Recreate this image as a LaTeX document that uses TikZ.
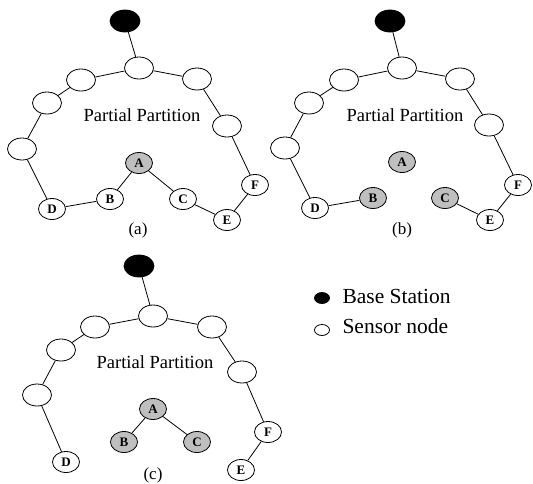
\documentclass[tikz,border=0pt]{standalone}
\usepackage{fontspec}
\setmainfont{Liberation Serif}
\usetikzlibrary{shapes.geometric}
\tikzset{
  sn/.style={ellipse,draw,line width=0.8pt,fill=white,minimum width=29pt,minimum height=22pt,inner sep=0pt},
  ln/.style={ellipse,draw,line width=0.8pt,fill=white,minimum width=27pt,minimum height=21pt,inner sep=0pt,font=\fontsize{13}{13}\selectfont\bfseries},
  gn/.style={ln,fill=black!25},
  bs/.style={ellipse,draw,line width=0.8pt,fill=black,minimum width=30pt,minimum height=22pt,inner sep=0pt},
  lk/.style={line width=0.8pt},
  pp/.style={font=\fontsize{18.5}{18.5}\selectfont},
  subcap/.style={font=\fontsize{17}{17}\selectfont},
  lg/.style={font=\fontsize{21.5}{21.5}\selectfont,anchor=west}
}
\begin{document}
\begin{tikzpicture}[x=1pt,y=-1pt]
\useasboundingbox (0,0) rectangle (533,483);
% ---------- (a)
\node[bs] (aBS) at (125,21) {};
\node[sn] (aT) at (139,68) {};
\node[sn] (aUL) at (81,80) {};
\node[sn] (aUR) at (197,79) {};
\node[sn] (aL2) at (47,103) {};
\node[sn] (aR2) at (227,126) {};
\node[sn] (aL3) at (22,149) {};
\node[gn] (aA) at (139,163) {A};
\node[ln] (aB) at (110,199) {B};
\node[ln] (aC) at (183,199) {C};
\node[ln] (aD) at (52,209) {D};
\node[ln] (aE) at (227,220) {E};
\node[ln] (aF) at (255,185) {F};
\node[pp] (aP) at (142,115) {Partial Partition};
\node[subcap] (acap) at (138,230) {(a)};
\draw[lk] (aBS)--(aT) (aT)--(aUL) (aT)--(aUR) (aUL)--(aL2) (aL2)--(aL3) (aL3)--(aD)
  (aD)--(aB) (aB)--(aA) (aA)--(aC) (aC)--(aE) (aE)--(aF) (aF)--(aR2) (aR2)--(aUR);
% ---------- (b)
\node[bs] (bBS) at (390,21) {};
\node[sn] (bT) at (402,68) {};
\node[sn] (bUL) at (344,80) {};
\node[sn] (bUR) at (460,79) {};
\node[sn] (bL2) at (309,103) {};
\node[sn] (bR2) at (489,125) {};
\node[sn] (bL3) at (285,148) {};
\node[gn] (bA) at (402,162) {A};
\node[gn] (bB) at (373,198) {B};
\node[gn] (bC) at (445,198) {C};
\node[ln] (bD) at (315,208) {D};
\node[ln] (bE) at (490,220) {E};
\node[ln] (bF) at (518,185) {F};
\node[pp] (bP) at (405,115) {Partial Partition};
\node[subcap] (bcap) at (402,230) {(b)};
\draw[lk] (bBS)--(bT) (bT)--(bUL) (bT)--(bUR) (bUL)--(bL2) (bL2)--(bL3) (bL3)--(bD)
  (bD)--(bB) (bC)--(bE) (bE)--(bF) (bF)--(bR2) (bR2)--(bUR);
% ---------- (c)
\node[bs] (cBS) at (139,266) {};
\node[sn] (cT) at (153,316) {};
\node[sn] (cUL) at (95,327) {};
\node[sn] (cUR) at (212,327) {};
\node[sn] (cL2) at (61,350) {};
\node[sn] (cR2) at (242,372) {};
\node[sn] (cL3) at (37,395) {};
\node[gn] (cA) at (153,409) {A};
\node[gn] (cB) at (124,442) {B};
\node[gn] (cC) at (197,442) {C};
\node[ln] (cD) at (66,462) {D};
\node[ln] (cE) at (241,470) {E};
\node[ln] (cF) at (268,432) {F};
\node[pp] (cP) at (155,362) {Partial Partition};
\node[subcap] (ccap) at (153,475) {(c)};
\draw[lk] (cBS)--(cT) (cT)--(cUL) (cT)--(cUR) (cUL)--(cL2) (cL2)--(cL3) (cL3)--(cD)
  (cA)--(cB) (cA)--(cC) (cE)--(cF) (cF)--(cR2) (cR2)--(cUR);
% ---------- legend
\node[ellipse,draw,line width=0.8pt,fill=black,minimum width=15pt,minimum height=11pt,inner sep=0pt] (lbs) at (322,298) {};
\node[lg] (lbst) at (339,296) {Base Station};
\node[ellipse,draw,line width=0.8pt,fill=white,minimum width=15pt,minimum height=11pt,inner sep=0pt] (lsn) at (322,330) {};
\node[lg] (lsnt) at (339,326) {Sensor node};
\end{tikzpicture}
\end{document}
